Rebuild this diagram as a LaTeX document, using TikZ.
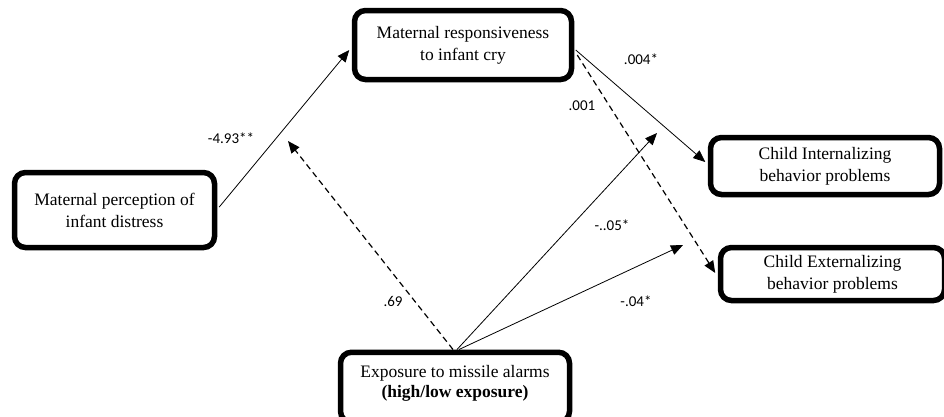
\documentclass[tikz,border=0pt]{standalone}
\usepackage{fontspec}
\setmainfont{Liberation Serif}
\newfontfamily\labfont{Carlito}
\usetikzlibrary{arrows.meta}
\begin{document}
\begin{tikzpicture}[x=1pt,y=-1pt,
  box/.style={draw=black, line width=5.5pt, rounded corners=11pt, align=center,
    inner sep=0pt, font=\fontsize{17.5}{22}\selectfont},
  arr/.style={line width=0.8pt, -{Triangle[length=12pt,width=10pt]}},
  darr/.style={line width=1.2pt, dash pattern=on 6pt off 4pt, -{Triangle[length=12pt,width=10pt]}},
  lab/.style={font=\labfont\fontsize{15}{17}\selectfont, inner sep=0pt}]
\useasboundingbox (0,0) rectangle (944,416);
\fill[white] (0,0) rectangle (944,416);

\node[box, minimum width=200pt, minimum height=75pt] (perc) at (114.5,210)
  {Maternal perception of\\infant distress};
\node[box, minimum width=217pt, minimum height=69pt] (resp) at (463,45)
  {Maternal responsiveness\\to infant cry};
\node[box, minimum width=229pt, minimum height=57pt] (intern) at (825,166)
  {Child Internalizing\\behavior problems};
\node[box, minimum width=224pt, minimum height=53pt] (extern) at (832.5,274)
  {Child Externalizing\\behavior problems};
\node[box, minimum width=229pt, minimum height=70pt, anchor=north] (expo) at (455,349.5) {};
\node[font=\fontsize{17.5}{20}\selectfont, align=center, inner sep=0pt] (expotxt) at (455,383)
  {Exposure to missile alarms\\\textbf{(high/low exposure)}};

\coordinate (m1) at (288,141);
\coordinate (m2) at (657,133);
\coordinate (m3) at (683,245);

\draw[arr] ([xshift=2pt,yshift=3pt]perc.east) -- ([xshift=-2.5pt,yshift=-5pt]resp.west);
\draw[arr] ([xshift=1.5pt,yshift=-5pt]resp.east) -- ([xshift=-2.5pt,yshift=4pt]intern.west);
\draw[darr] ([xshift=3pt,yshift=-10pt]resp.east) -- ([xshift=-2.5pt,yshift=1pt]extern.west);
\draw[darr] ([xshift=-2pt]expo.north) -- (m1);
\draw[arr] ([xshift=2pt]expo.north) -- (m2);
\draw[arr] ([xshift=4pt]expo.north) -- (m3);

\node[lab] (l1) at (231,138) {-4.93**};
\node[lab] (l2) at (641,59) {.004*};
\node[lab] (l3) at (582,106) {.001};
\node[lab] (l4) at (612,225) {-..05*};
\node[lab] (l5) at (393,301) {.69};
\node[lab] (l6) at (636,301) {-.04*};
\end{tikzpicture}
\end{document}
